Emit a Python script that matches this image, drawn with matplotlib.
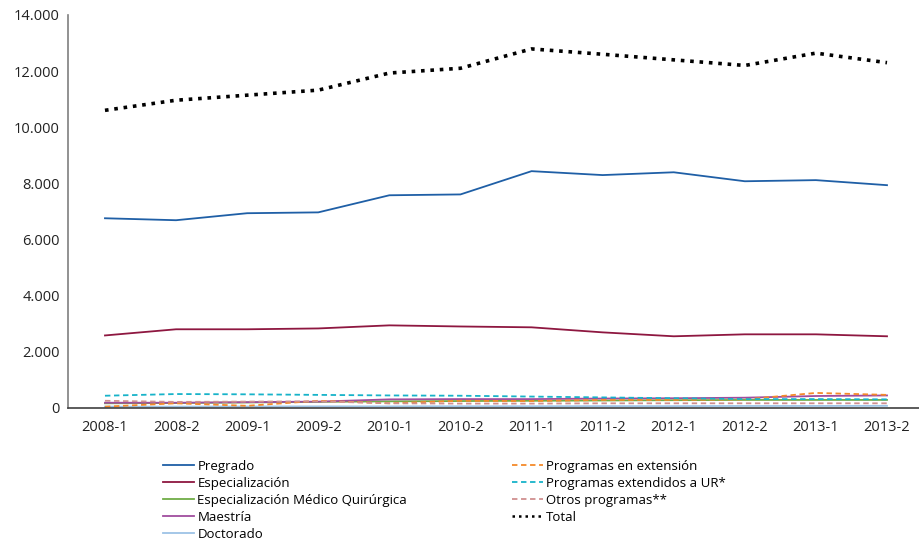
import matplotlib
matplotlib.use("Agg")
import matplotlib.pyplot as plt
from matplotlib.ticker import FuncFormatter

periods = ["2008-1", "2008-2", "2009-1", "2009-2", "2010-1", "2010-2",
           "2011-1", "2011-2", "2012-1", "2012-2", "2013-1", "2013-2"]

pregrado = [6750, 6680, 6930, 6960, 7570, 7600, 8430, 8290, 8390, 8070, 8110, 7930]
especializacion = [2570, 2790, 2790, 2820, 2930, 2890, 2860, 2680, 2540, 2610, 2610, 2540]
esp_medico = [150, 160, 180, 200, 220, 230, 240, 250, 260, 270, 270, 270]
maestria = [170, 170, 190, 210, 290, 300, 300, 320, 330, 350, 410, 430]
doctorado = [30, 30, 35, 40, 40, 45, 45, 50, 50, 55, 55, 60]
prog_extension = [30, 150, 60, 240, 150, 240, 230, 270, 270, 290, 520, 450]
prog_ur = [420, 480, 470, 450, 430, 420, 390, 360, 330, 300, 300, 290]
otros = [240, 200, 210, 220, 150, 140, 140, 150, 150, 150, 150, 150]
total = [10600, 10960, 11140, 11320, 11930, 12100, 12790, 12600, 12400, 12200, 12640, 12300]

plt.rcParams['font.family'] = ['Open Sans', 'DejaVu Sans']

fig = plt.figure(figsize=(9.19, 5.45), dpi=100)
ax = fig.add_axes([68/919, 1 - 407.5/545, (919-68)/919, (407.5-15)/545])

x = list(range(len(periods)))
h1 = ax.plot(x, pregrado, color="#1f5fa6", lw=1.3, label="Pregrado")[0]
h2 = ax.plot(x, especializacion, color="#8e1740", lw=1.3, label="Especialización")[0]
h3 = ax.plot(x, esp_medico, color="#70ad47", lw=1.3, label="Especialización Médico Quirúrgica")[0]
h4 = ax.plot(x, maestria, color="#a04d9e", lw=1.3, label="Maestría")[0]
h5 = ax.plot(x, doctorado, color="#9dc3e6", lw=1.3, label="Doctorado")[0]
h6 = ax.plot(x, prog_extension, color="#f58a2a", lw=1.3, ls=(0, (3, 2)), label="Programas en extensión")[0]
h7 = ax.plot(x, prog_ur, color="#17b3c9", lw=1.3, ls=(0, (3, 2)), label="Programas extendidos a UR*")[0]
h8 = ax.plot(x, otros, color="#d09090", lw=1.3, ls=(0, (3, 2)), label="Otros programas**")[0]
h9 = ax.plot(x, total, color="black", lw=2.6, ls=(0, (1, 1.6)), label="Total")[0]

ax.set_ylim(0, 14000)
ax.set_xlim(-0.52, 11.45)
ax.set_yticks(range(0, 14001, 2000))
ax.yaxis.set_major_formatter(FuncFormatter(lambda v, p: f"{int(v):,}".replace(",", ".")))
ax.set_xticks(x)
ax.set_xticklabels(periods)
ax.tick_params(axis='both', length=0, labelsize=10.5, colors="#222222", pad=6)
ax.tick_params(axis='x', pad=9)
for s in ["top", "right"]:
    ax.spines[s].set_visible(False)
ax.spines["left"].set_color("#7f7f7f")
ax.spines["bottom"].set_color("#404040")
ax.spines["left"].set_linewidth(1.2)
ax.spines["bottom"].set_linewidth(1.2)

kw = dict(frameon=False, fontsize=9.5, handlelength=2.35, handletextpad=0.27,
          labelspacing=0.31, borderpad=0, borderaxespad=0, loc="upper left")
leg1 = fig.legend(handles=[h1, h2, h3, h4, h5], bbox_to_anchor=(162.7/919, 1 - 459.7/545), **kw)
for lh in leg1.get_lines():
    lh.set_linewidth(1.3)
leg2 = fig.legend(handles=[h6, h7, h8, h9], bbox_to_anchor=(511.7/919, 1 - 459.7/545), **kw)
leg2.get_lines()[3].set_linewidth(1.8)

fig.savefig("out.png", dpi=100)
